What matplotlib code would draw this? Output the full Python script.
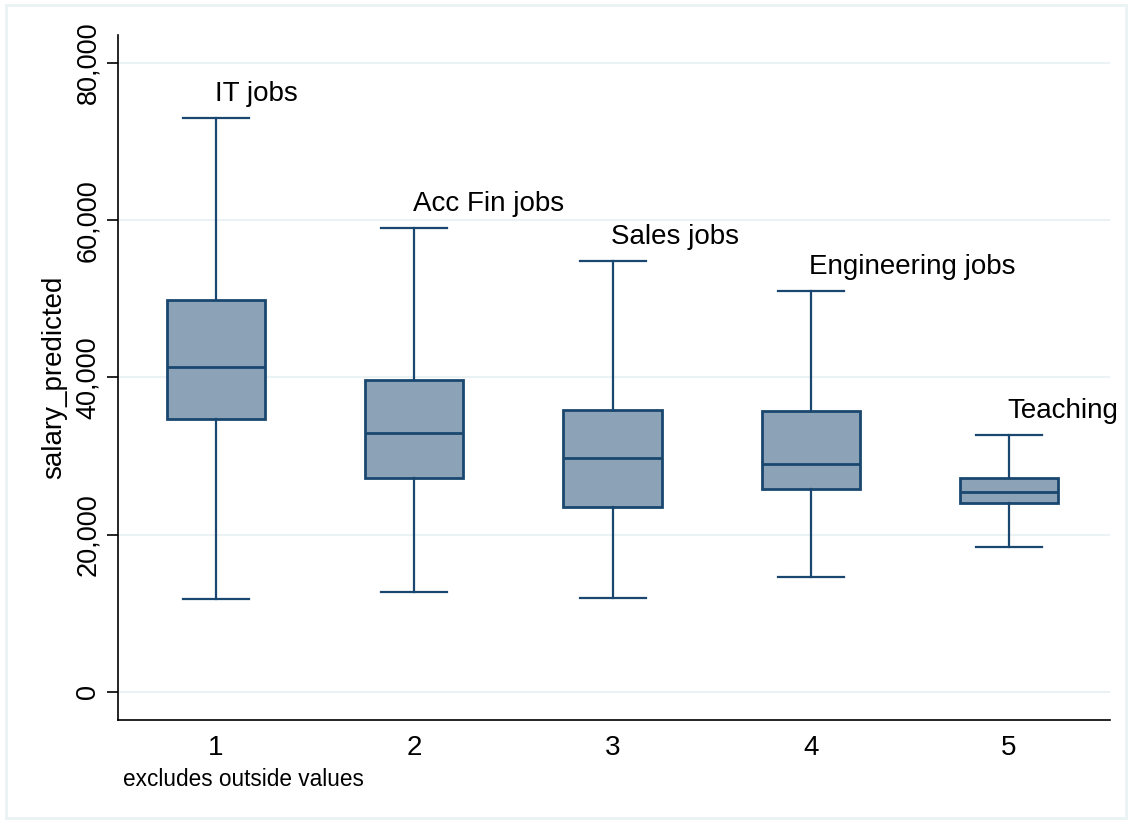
import matplotlib
matplotlib.use('Agg')
import matplotlib.pyplot as plt
from matplotlib.patches import Rectangle
from matplotlib.ticker import FuncFormatter

# valores (salary_predicted por grupo de vagas)
grupos = [1, 2, 3, 4, 5]
nomes = ['IT jobs', 'Acc Fin jobs', 'Sales jobs', 'Engineering jobs', 'Teaching']
bigodeInf = [11800, 12700, 11950, 14600, 18450]
q1 = [34700, 27200, 23550, 25800, 24050]
mediana = [41350, 32950, 29750, 29000, 25450]
q3 = [49850, 39700, 35850, 35750, 27200]
bigodeSup = [73000, 59000, 54800, 51000, 32700]
yTicks = [0, 20000, 40000, 60000, 80000]

azul = '#1a476f'
preench = '#8ca3b7'
grade = '#eaf2f3'

def main():
    plt.rcParams['font.family'] = ['Liberation Sans', 'DejaVu Sans']
    fig = plt.figure(figsize=(11.32, 8.23), dpi=100)
    fig.patches.append(Rectangle((0.005, 0.006), 0.99, 0.988, transform=fig.transFigure,
                                 fill=False, edgecolor=grade, linewidth=2))
    ax = fig.add_axes([0.1042, 0.1252, 0.8764, 0.8323])

    # montando as estatísticas de cada caixa
    stats = []
    for i in range(len(grupos)):
        stats.append({'med': mediana[i], 'q1': q1[i], 'q3': q3[i],
                      'whislo': bigodeInf[i], 'whishi': bigodeSup[i], 'fliers': []})

    ax.bxp(stats, positions=grupos, widths=0.495, patch_artist=True, showfliers=False,
           boxprops=dict(facecolor=preench, edgecolor=azul, linewidth=2),
           medianprops=dict(color=azul, linewidth=2),
           whiskerprops=dict(color=azul, linewidth=1.6),
           capprops=dict(color=azul, linewidth=1.6),
           capwidths=0.333, zorder=3)

    # rótulos acima dos bigodes
    for g, nome, topo in zip(grupos, nomes, bigodeSup):
        ax.annotate(nome, (g, topo), xytext=(-1, 12), textcoords='offset points',
                    ha='left', va='baseline', fontsize=20, annotation_clip=False)

    ax.set_xlim(0.505, 5.51)
    ax.set_ylim(-3560, 83560)
    ax.set_xticks(grupos)
    ax.set_yticks(yTicks)
    ax.yaxis.set_major_formatter(FuncFormatter(lambda v, p: f'{int(v):,}'))
    ax.tick_params(axis='x', length=0, pad=11, labelsize=20)
    ax.tick_params(axis='y', length=8, width=1.2, pad=4, labelsize=19.5)
    for lab in ax.get_yticklabels():
        lab.set_rotation(90)
        lab.set_va('center')
    ax.grid(axis='y', color=grade, linewidth=1.5, zorder=0)
    ax.set_axisbelow(True)
    for lado in ['top', 'right']:
        ax.spines[lado].set_visible(False)
    for lado in ['left', 'bottom']:
        ax.spines[lado].set_linewidth(1.2)
    ax.set_ylabel('salary_predicted', fontsize=20, labelpad=6)

    fig.text(123 / 1132, 1 - 779 / 823, 'excludes outside values', fontsize=16.3,
             ha='left', va='center')

    fig.savefig('out.png', dpi=100)

if __name__ == "__main__":
    main()
